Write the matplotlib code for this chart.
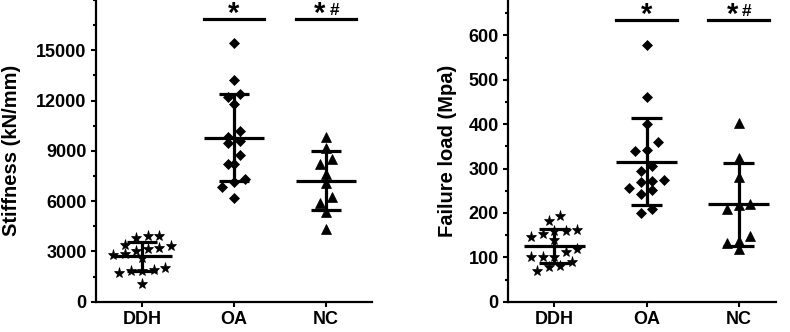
import numpy as np
import matplotlib
matplotlib.use("Agg")
import matplotlib.pyplot as plt
from matplotlib.ticker import MultipleLocator
from matplotlib.transforms import blended_transform_factory

plt.rcParams['font.family'] = ['Liberation Sans', 'DejaVu Sans']
plt.rcParams['font.weight'] = 'bold'

groups = ["DDH", "OA", "NC"]
markers = ["*", "D", "^"]

stiff_ddh = [3918, 3382, 3322, 3817, 3918, 3125, 2845, 2588, 2786, 3024, 3185,
             1992, 1849, 1694, 1849, 1891, 1056]
stiff_oa = [15412, 13223, 12227, 12370, 11792, 10181, 9841, 9585, 9447, 8750,
            8195, 8230, 7300, 7140, 6823, 6167]
stiff_nc = [9841, 9185, 8195, 8493, 7617, 7062, 6262, 5869, 5368, 4336]

load_ddh = [193, 182, 159, 152, 159, 161, 140, 146, 112, 118, 100, 100, 100,
            90, 80, 79, 70]
load_oa = [579, 461, 400, 359, 339, 341, 306, 294, 274, 270, 272, 251, 256,
           242, 201, 208]
load_nc = [403, 325, 281, 221, 219, 208, 148, 137, 133, 118]

stiff_yticks = [0, 3000, 6000, 9000, 12000, 15000]
load_yticks = [0, 100, 200, 300, 400, 500, 600]
sig_labels = ["", "*", "*"]
hash_labels = ["", "", "#"]

fig = plt.figure(figsize=(7.9, 3.32), dpi=100)
axL = fig.add_axes([96 / 790, 30.3 / 332, 276 / 790, 301.7 / 332])
axR = fig.add_axes([508.3 / 790, 30.3 / 332, 267.2 / 790, 301.7 / 332])


def swarm_offsets(ax, vals, d_px=11.5, h_px=9.0):
    """Prism-like row layout: group close values into rows, center each row."""
    vals = np.asarray(vals, float)
    to_px = ax.transData
    ypx = np.array([to_px.transform((1, v))[1] for v in vals])
    order = np.argsort(-ypx)
    rows = []
    cur = [order[0]]
    for i in order[1:]:
        if ypx[cur[0]] - ypx[i] < h_px:
            cur.append(i)
        else:
            rows.append(cur)
            cur = [i]
    rows.append(cur)
    offs = np.zeros(len(vals))
    for r in rows:
        n = len(r)
        r_sorted = sorted(r, key=lambda k: ypx[k])
        for j, k in enumerate(r_sorted):
            offs[k] = (j - (n - 1) / 2) * d_px
    x0 = to_px.transform((1, 0))[0]
    x1 = to_px.transform((2, 0))[0]
    return offs / (x1 - x0)


def panel(ax, data, ylim, yticks, minor, ylabel, xlim, sig_y_axes, labelpad):
    ax.set_xlim(*xlim)
    ax.set_ylim(*ylim)
    for s in ["top", "right"]:
        ax.spines[s].set_visible(False)
    for s in ["left", "bottom"]:
        ax.spines[s].set_linewidth(1.6)
    ax.set_yticks(yticks)
    ax.yaxis.set_minor_locator(MultipleLocator(minor))
    ax.set_xticks(range(1, len(groups) + 1))
    ax.set_xticklabels(groups)
    ax.tick_params(axis="both", which="major", length=3.8, width=1.5,
                   labelsize=13, pad=3)
    ax.tick_params(axis="y", which="minor", length=2.2, width=1.5)
    ax.tick_params(axis="x", which="minor", length=0)
    for lab in ax.get_xticklabels() + ax.get_yticklabels():
        lab.set_fontweight("bold")
    ax.set_ylabel(ylabel, fontsize=14.5, fontweight="bold", labelpad=labelpad)

    for i, (vals, m) in enumerate(zip(data, markers)):
        x = i + 1
        offs = swarm_offsets(ax, vals)
        ms = 8 if m == "*" else (5.2 if m == "D" else 6.5)
        ax.plot(x + offs, vals, linestyle="none", marker=m, color="black",
                markersize=ms, markeredgewidth=0.5, zorder=3)
        mean = np.mean(vals)
        sd = np.std(vals, ddof=1)
        ax.hlines(mean, x - 0.33, x + 0.33, color="black", lw=2.3, zorder=4)
        ax.vlines(x, mean - sd, mean + sd, color="black", lw=2.3, zorder=4)
        ax.hlines([mean - sd, mean + sd], x - 0.165, x + 0.165, color="black",
                  lw=2.3, zorder=4)

    tr = blended_transform_factory(ax.transData, ax.transAxes)
    for i, (s, h) in enumerate(zip(sig_labels, hash_labels)):
        if not s:
            continue
        x = i + 1
        ax.plot([x - 0.33, x + 0.33], [sig_y_axes, sig_y_axes], color="black",
                lw=2.3, transform=tr, clip_on=False)
        if h:
            ax.text(x - 0.07, sig_y_axes - 0.03, s, transform=tr, ha="center",
                    va="bottom", fontsize=21, fontweight="bold")
            ax.text(x + 0.09, sig_y_axes + 0.028, h, transform=tr, ha="center",
                    va="center", fontsize=12.5, fontweight="bold")
        else:
            ax.text(x, sig_y_axes - 0.03, s, transform=tr, ha="center",
                    va="bottom", fontsize=21, fontweight="bold")


panel(axL, [stiff_ddh, stiff_oa, stiff_nc], (0, 18000), stiff_yticks, 1500,
      "Stiffness (kN/mm)", (0.5, 3.5), 0.936, 11)
panel(axR, [load_ddh, load_oa, load_nc], (0, 680), load_yticks, 50,
      "Failure load (Mpa)", (0.5, 3.4), 0.934, 8)

fig.savefig("out.png", dpi=100)
